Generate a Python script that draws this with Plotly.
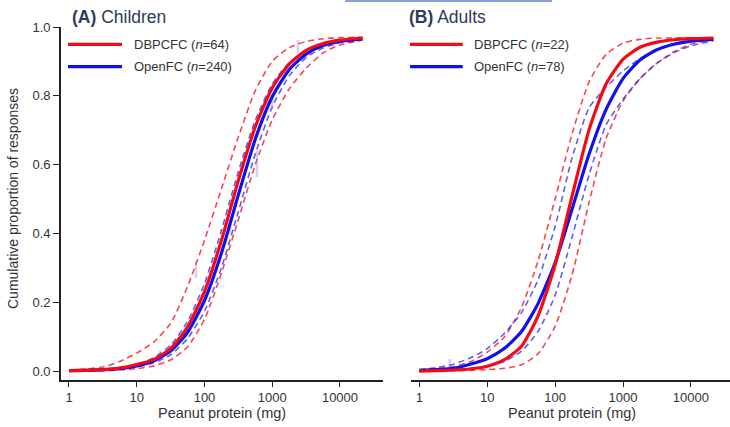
import plotly.graph_objects as go

# ---------------- data ----------------
dose_mg = [1, 1.8, 3.2, 5.6, 10, 18, 32, 56, 100, 178, 316, 562,
           1000, 1780, 3160, 5620, 10000, 21500]

# Panel A: children
a_dbpcfc    = [0.001, 0.002, 0.004, 0.009, 0.019, 0.034, 0.066, 0.128, 0.231, 0.380, 0.554, 0.710,
               0.823, 0.892, 0.932, 0.952, 0.962, 0.968]
a_dbpcfc_lo = [0.000, 0.000, 0.001, 0.003, 0.007, 0.015, 0.033, 0.070, 0.150, 0.285, 0.440, 0.600,
               0.730, 0.820, 0.880, 0.925, 0.948, 0.962]
a_dbpcfc_hi = [0.003, 0.006, 0.012, 0.028, 0.052, 0.085, 0.140, 0.245, 0.380, 0.530, 0.680, 0.815,
               0.900, 0.940, 0.958, 0.966, 0.969, 0.970]
a_open      = [0.001, 0.002, 0.004, 0.007, 0.015, 0.030, 0.059, 0.112, 0.205, 0.343, 0.512, 0.674,
               0.797, 0.876, 0.921, 0.946, 0.958, 0.966]
a_open_lo   = [0.001, 0.001, 0.003, 0.006, 0.012, 0.024, 0.048, 0.094, 0.174, 0.300, 0.463, 0.631,
               0.768, 0.858, 0.911, 0.939, 0.954, 0.962]
a_open_hi   = [0.001, 0.002, 0.005, 0.010, 0.019, 0.039, 0.076, 0.144, 0.254, 0.409, 0.580, 0.729,
               0.834, 0.897, 0.932, 0.950, 0.959, 0.965]

# Panel B: adults
b_dbpcfc    = [0.000, 0.001, 0.003, 0.006, 0.014, 0.033, 0.072, 0.160, 0.309, 0.509, 0.701, 0.834,
               0.906, 0.941, 0.956, 0.963, 0.966, 0.968]
b_dbpcfc_lo = [0.000, 0.000, 0.001, 0.002, 0.004, 0.008, 0.018, 0.050, 0.130, 0.280, 0.490, 0.675,
               0.785, 0.850, 0.895, 0.928, 0.950, 0.963]
b_dbpcfc_hi = [0.004, 0.007, 0.013, 0.027, 0.055, 0.100, 0.185, 0.320, 0.500, 0.690, 0.840, 0.920,
               0.953, 0.964, 0.968, 0.968, 0.968, 0.968]
b_open      = [0.002, 0.004, 0.008, 0.020, 0.036, 0.066, 0.115, 0.196, 0.315, 0.471, 0.630, 0.760,
               0.850, 0.904, 0.934, 0.950, 0.959, 0.964]
b_open_lo   = [0.001, 0.002, 0.004, 0.008, 0.015, 0.028, 0.058, 0.115, 0.220, 0.390, 0.570, 0.715,
               0.790, 0.850, 0.895, 0.925, 0.945, 0.960]
b_open_hi   = [0.004, 0.010, 0.020, 0.038, 0.065, 0.110, 0.170, 0.265, 0.420, 0.620, 0.765, 0.825,
               0.872, 0.908, 0.935, 0.952, 0.961, 0.966]

# faint empirical OpenFC interval marks
a_bar_dose = [22, 30, 75, 238, 595, 1000, 2400]
a_bar_lo   = [0.025, 0.040, 0.270, 0.400, 0.564, 0.760, 0.924]
a_bar_hi   = [0.060, 0.075, 0.320, 0.450, 0.642, 0.800, 0.962]
b_bar_dose = [2.8]
b_bar_lo   = [0.010]
b_bar_hi   = [0.035]

x_tickvals = [1, 10, 100, 1000, 10000]
x_ticktext = ["1", "10", "100", "1000", "10000"]
y_tickvals = [0.0, 0.2, 0.4, 0.6, 0.8, 1.0]
y_ticktext = ["0.0", "0.2", "0.4", "0.6", "0.8", "1.0"]

legend_a = ["DBPCFC (<i>n</i>=64)", "OpenFC (<i>n</i>=240)"]
legend_b = ["DBPCFC (<i>n</i>=22)", "OpenFC (<i>n</i>=78)"]

# ---------------- styling ----------------
W, H = 730, 427
RED = "rgb(245,10,20)"
BLUE = "rgb(15,15,240)"
RED_D = "rgba(245,40,50,0.85)"
BLUE_D = "rgba(40,40,245,0.75)"
BAR = "rgba(120,120,250,0.35)"
FONT = "Liberation Sans, Arial, sans-serif"
TXT = "#333333"

fig = go.Figure()


def add_panel(xa, ya, rs, rlo, rhi, bs, blo, bhi, bd, bl, bh):
    for vals, col in [(rlo, RED_D), (rhi, RED_D), (blo, BLUE_D), (bhi, BLUE_D)]:
        fig.add_trace(go.Scatter(x=dose_mg, y=vals, mode="lines", xaxis=xa, yaxis=ya,
                                 line=dict(color=col, width=1.6, dash="6px,4px",
                                           shape="spline", smoothing=0.6),
                                 showlegend=False, hoverinfo="skip"))
    bx, by = [], []
    for d, lo, hi in zip(bd, bl, bh):
        bx += [d, d, None]
        by += [lo, hi, None]
    fig.add_trace(go.Scatter(x=bx, y=by, mode="lines", xaxis=xa, yaxis=ya,
                             line=dict(color=BAR, width=2.5), showlegend=False,
                             hoverinfo="skip"))
    fig.add_trace(go.Scatter(x=dose_mg, y=bs, mode="lines", xaxis=xa, yaxis=ya,
                             line=dict(color=BLUE, width=3.2, shape="spline", smoothing=0.6),
                             showlegend=False))
    fig.add_trace(go.Scatter(x=dose_mg, y=rs, mode="lines", xaxis=xa, yaxis=ya,
                             line=dict(color=RED, width=3.2, shape="spline", smoothing=0.6),
                             showlegend=False))


add_panel("x", "y", a_dbpcfc, a_dbpcfc_lo, a_dbpcfc_hi, a_open, a_open_lo, a_open_hi,
          a_bar_dose, a_bar_lo, a_bar_hi)
add_panel("x2", "y2", b_dbpcfc, b_dbpcfc_lo, b_dbpcfc_hi, b_open, b_open_lo, b_open_hi,
          b_bar_dose, b_bar_lo, b_bar_hi)

ydom = [47 / H, 400 / H]
common_x = dict(type="log", tickmode="array", tickvals=x_tickvals, ticktext=x_ticktext,
                ticks="outside", ticklen=5, tickwidth=1.3, tickcolor="#222",
                showline=True, linecolor="#222", linewidth=1.6, showgrid=False,
                zeroline=False, tickfont=dict(family=FONT, size=13, color=TXT),
                automargin=False)

fig.update_layout(
    width=W, height=H,
    margin=dict(l=0, r=0, t=0, b=0),
    paper_bgcolor="white", plot_bgcolor="white",
    showlegend=False,
    xaxis=dict(domain=[61 / W, 383 / W], range=[-0.118, 4.635], anchor="y", **common_x),
    xaxis2=dict(domain=[410.7 / W, 1.0], range=[-0.127, 4.576], anchor="y2", **common_x),
    yaxis=dict(domain=ydom, range=[-0.026, 1.0], tickmode="array", tickvals=y_tickvals,
               ticktext=y_ticktext, ticks="outside", ticklen=6, tickwidth=1.3,
               tickcolor="#222", showline=True, linecolor="#222", linewidth=1.6,
               showgrid=False, zeroline=False, anchor="x",
               tickfont=dict(family=FONT, size=13, color=TXT), automargin=False),
    yaxis2=dict(domain=ydom, range=[-0.026, 1.0], showline=False, showticklabels=False,
                ticks="", showgrid=False, zeroline=False, anchor="x2"),
)

ann = []
# panel titles
ann.append(dict(text="<b>(A)</b> Children", x=70 / W, y=(H - 17) / H, xref="paper", yref="paper",
                xanchor="left", yanchor="middle", showarrow=False,
                font=dict(family=FONT, size=17.5, color="#2e3b5c")))
ann.append(dict(text="<b>(B)</b> Adults", x=406.7 / W, y=(H - 17) / H, xref="paper", yref="paper",
                xanchor="left", yanchor="middle", showarrow=False,
                font=dict(family=FONT, size=17.5, color="#2e3b5c")))
# axis titles
for cx in [222, 572]:
    ann.append(dict(text="Peanut protein (mg)", x=cx / W, y=(H - 413) / H, xref="paper",
                    yref="paper", xanchor="center", yanchor="middle", showarrow=False,
                    font=dict(family=FONT, size=14.5, color=TXT)))
ann.append(dict(text="Cumulative proportion of responses", x=13 / W, y=(H - 199) / H,
                xref="paper", yref="paper", xanchor="center", yanchor="middle",
                textangle=-90, showarrow=False, font=dict(family=FONT, size=14, color=TXT)))

shapes = []
# legends
for (x0, x1, tx, labels) in [(68, 122, 131.7, legend_a), (410, 462.7, 471.7, legend_b)]:
    for yy, col, lab in [(44.3, RED, labels[0]), (66.7, BLUE, labels[1])]:
        shapes.append(dict(type="line", xref="paper", yref="paper", x0=x0 / W, x1=x1 / W,
                           y0=(H - yy) / H, y1=(H - yy) / H, line=dict(color=col, width=3.2)))
        ann.append(dict(text=lab, x=tx / W, y=(H - yy) / H, xref="paper", yref="paper",
                        xanchor="left", yanchor="middle", showarrow=False,
                        font=dict(family=FONT, size=13, color=TXT)))
# thin rule at top edge
shapes.append(dict(type="line", xref="paper", yref="paper", x0=345 / W, x1=552 / W,
                   y0=(H - 1) / H, y1=(H - 1) / H, line=dict(color="#86a2d2", width=2)))

fig.update_layout(annotations=ann, shapes=shapes)
fig.write_html("out.html", config={"displayModeBar": False},
               post_script="document.body.style.margin='0';")
